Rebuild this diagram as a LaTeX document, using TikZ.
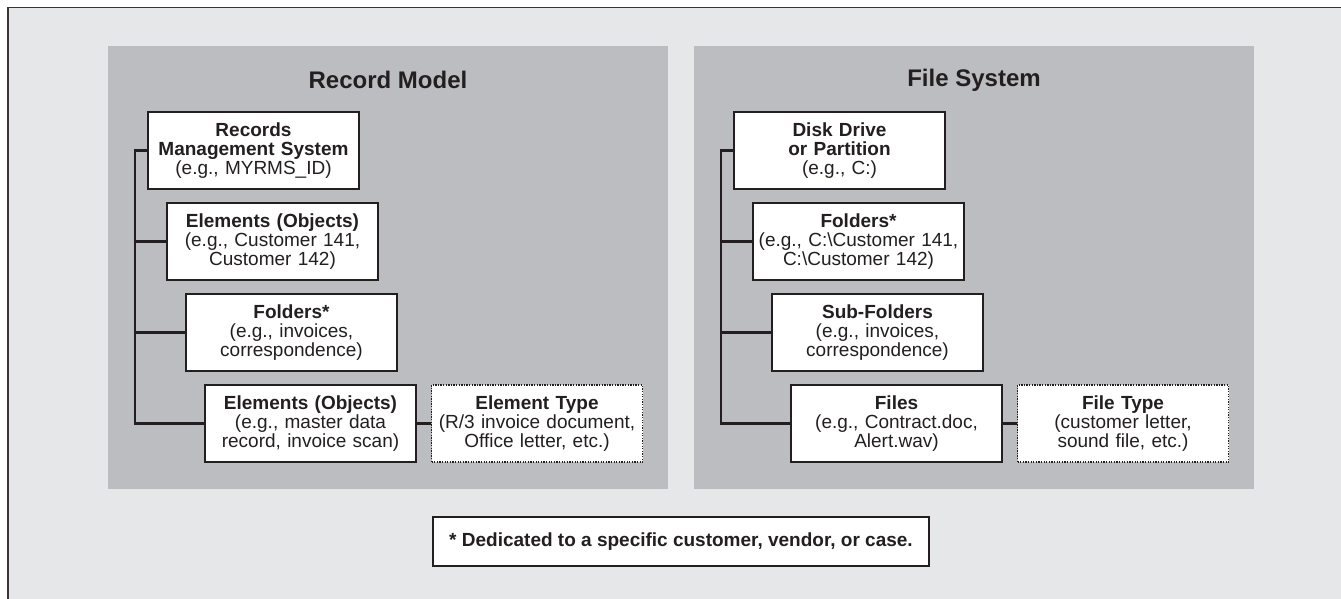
\documentclass[tikz,border=0pt]{standalone}
\usepackage{fontspec}
\setmainfont{Liberation Sans}
\definecolor{ink}{HTML}{231F20}
\definecolor{pagebg}{HTML}{E6E7E9}
\definecolor{panelbg}{HTML}{BCBDC1}
\tikzset{
  frame/.style={draw=ink!90, line width=1.7pt, fill=pagebg},
  panel/.style={fill=panelbg, draw=none},
  heading/.style={text=ink, font={\fontsize{24}{28}\selectfont\bfseries}},
  levelbox/.style={draw=ink, line width=1.6pt, fill=white, text=ink,
    inner xsep=0pt, inner ysep=0pt, text width=211pt, minimum height=77pt,
    align=center, font={\fontsize{19}{19.3}\selectfont}},
  typebox/.style={levelbox, line width=1.4pt, dash pattern=on 1.3pt off 1.3pt},
  notebox/.style={draw=ink, line width=1.6pt, fill=white, text=ink,
    minimum width=496pt, minimum height=49pt, inner sep=0pt,
    font={\fontsize{19}{19.3}\selectfont\bfseries}},
  conn/.style={draw=ink, line width=2.2pt, line join=miter}
}
\begin{document}
\begin{tikzpicture}[x=1pt, y=-1pt]
\useasboundingbox (0,0) rectangle (1341,598);
\begin{scope}
\clip (0,0) rectangle (1341,598);
% outer sheet, running off the right and bottom edges
\draw[frame] (8,7.5) rectangle (1380,640);
\end{scope}

% the two grey panels
\fill[panel] (108,46) rectangle (668,489);
\fill[panel] (694,46) rectangle (1254,489);
\node[heading] (tl) at (388,80) {Record Model};
\node[heading] (tr) at (974,80) {File System};

% record model hierarchy
\node[levelbox] (rms)  at (253.5,150.5) {\textbf{Records}\\\textbf{Management System}\\(e.g., MYRMS\_ID)};
\node[levelbox] (el1)  at (272.5,241.5) {\textbf{Elements (Objects)}\\(e.g., Customer 141,\\Customer 142)};
\node[levelbox] (fol1) at (291.5,332.5) {\textbf{Folders*}\\(e.g., invoices,\\correspondence)};
\node[levelbox] (el2)  at (310.5,423.5) {\textbf{Elements (Objects)}\\(e.g., master data\\record, invoice scan)};
\node[typebox]  (et)   at (537,423.5) {\textbf{Element Type}\\(R/3 invoice document,\\Office letter, etc.)};

% file system hierarchy
\node[levelbox] (disk) at (839.5,150.5) {\textbf{Disk Drive}\\\textbf{or Partition}\\(e.g., C:)};
\node[levelbox] (fol2) at (858.5,241.5) {\textbf{Folders*}\\(e.g., C:\textbackslash Customer 141,\\C:\textbackslash Customer 142)};
\node[levelbox] (sub)  at (877.5,332.5) {\textbf{Sub-Folders}\\(e.g., invoices,\\correspondence)};
\node[levelbox] (fil)  at (896.5,423.5) {\textbf{Files}\\(e.g., Contract.doc,\\Alert.wav)};
\node[typebox]  (ft)   at (1123,423.5) {\textbf{File Type}\\(customer letter,\\sound file, etc.)};

% trunk lines
\coordinate (lt) at (135,0);
\coordinate (rt) at (721,0);
\draw[conn] (rms.west) -- (rms.west -| lt) -- (el2.west -| lt) -- (el2.west);
\draw[conn] (el1.west -| lt) -- (el1.west);
\draw[conn] (fol1.west -| lt) -- (fol1.west);
\draw[conn] (el2.east) -- (et.west);

\draw[conn] (disk.west) -- (disk.west -| rt) -- (fil.west -| rt) -- (fil.west);
\draw[conn] (fol2.west -| rt) -- (fol2.west);
\draw[conn] (sub.west -| rt) -- (sub.west);
\draw[conn] (fil.east) -- (ft.west);

% footnote
\node[notebox] (note) at (681,541.5) {* Dedicated to a specific customer, vendor, or case.};
\end{tikzpicture}
\end{document}
